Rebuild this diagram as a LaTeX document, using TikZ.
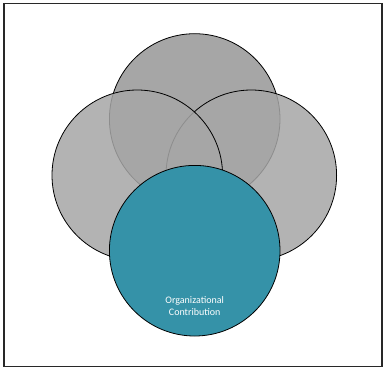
\documentclass[tikz,border=0pt]{standalone}
\usepackage{fontspec}
\setsansfont{Carlito}
\usetikzlibrary{positioning}
\definecolor{venngray}{RGB}{166, 166, 166}
\definecolor{vennteal}{RGB}{53, 146, 168}
\definecolor{frameline}{RGB}{40, 40, 40}
\tikzset{
  venn/.style={circle, draw=black, line width=0.8pt, minimum size=170.6pt, inner sep=0pt},
  sidevenn/.style={venn, fill=venngray, fill opacity=0.85},
  topvenn/.style={venn, fill=venngray},
  orgvenn/.style={venn, fill=vennteal},
  vennlabel/.style={text=white, align=center, font=\sffamily\fontsize{10}{12}\selectfont},
}
\begin{document}
\begin{tikzpicture}[x=1pt, y=-1pt]
        \useasboundingbox (0,0) rectangle (383,368);
        % frame
        \draw[frameline, line width=1.5pt] (4,3.5) rectangle (382,366.5);
        % upper circles
        \node[topvenn] (top) at (194.7,119) {};
        \node[sidevenn] (right) at (251.3,175.3) {};
        \node[sidevenn] (left) at (137.3,175.3) {};
        % bottom circle
        \node[orgvenn] (org) at (194.7,250.7) {};
        \node[vennlabel] (orglabel) at (194.7,306) {Organizational\\Contribution};
      \end{tikzpicture}
\end{document}
